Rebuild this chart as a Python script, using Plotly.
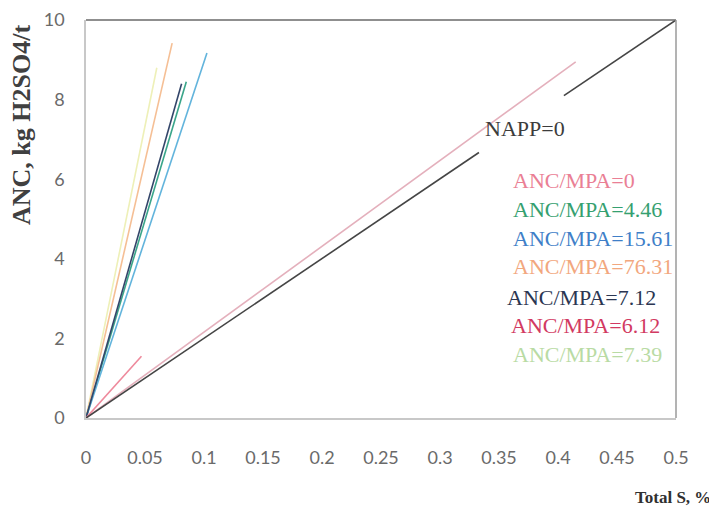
import plotly.graph_objects as go

# Data
series_names = ["NAPP=0", "ANC/MPA=0", "ANC/MPA=4.46", "ANC/MPA=15.61",
                "ANC/MPA=76.31", "ANC/MPA=7.12", "ANC/MPA=6.12", "ANC/MPA=7.39"]
napp_x = [0, 0.333, None, 0.405, 0.5]
napp_y = [0, 6.67, None, 8.1, 10]
anc0_x = [0, 0.047]
anc0_y = [0, 1.55]
anc446_x = [0, 0.085]
anc446_y = [0, 8.45]
anc1561_x = [0, 0.1025]
anc1561_y = [0, 9.17]
anc7631_x = [0, 0.073]
anc7631_y = [0, 9.42]
anc712_x = [0, 0.081]
anc712_y = [0, 8.4]
anc612_x = [0, 0.415]
anc612_y = [0, 8.95]
anc739_x = [0, 0.06]
anc739_y = [0, 8.8]

x_ticks = [0, 0.05, 0.1, 0.15, 0.2, 0.25, 0.3, 0.35, 0.4, 0.45, 0.5]
x_tick_labels = ["0", "0.05", "0.1", "0.15", "0.2", "0.25", "0.3", "0.35", "0.4", "0.45", "0.5"]
y_ticks = [0, 2, 4, 6, 8, 10]

line_colors = ["#454545", "#ee8a9c", "#3aa58a", "#62b4dc", "#f5bf95", "#34466a", "#e4b0bc", "#eef0b8"]
text_colors = ["#3c3c3c", "#ea7f95", "#35a070", "#3f7fc8", "#f2a77e", "#2b3652", "#d23a62", "#b9dba4"]

xs = [napp_x, anc0_x, anc446_x, anc1561_x, anc7631_x, anc712_x, anc612_x, anc739_x]
ys = [napp_y, anc0_y, anc446_y, anc1561_y, anc7631_y, anc712_y, anc612_y, anc739_y]

fig = go.Figure()
order = [6, 7, 4, 2, 3, 5, 1, 0]
for i in order:
    fig.add_trace(go.Scatter(x=xs[i], y=ys[i], mode="lines", name=series_names[i],
                             line=dict(color=line_colors[i], width=1.6),
                             connectgaps=False, showlegend=False))

# page body has an 8px margin: lay out in figure coords = screen coords - 8
OFF = 8
W, H = 717, 516
L, R, T, B = 86 - OFF, W - (676 - OFF), 20 - OFF, H - (418 - OFF)
pw, ph = W - L - R, H - T - B


def px(x):
    return (x - OFF - L) / pw


def py(y):
    return 1 - (y - OFF - T) / ph


# Legend-like labels
label_y = [128, 181, 209, 238, 266, 297, 325, 354]
label_x = [483, 511, 511, 511, 511, 505, 509, 511]
for i, name in enumerate(series_names):
    fig.add_annotation(x=px(label_x[i]), y=py(label_y[i]),
                       xref="paper", yref="paper", text=name, showarrow=False,
                       xanchor="left", yanchor="middle",
                       font=dict(family="Liberation Serif, Times New Roman, serif", size=22,
                                 color=text_colors[i]))

# Axis titles
fig.add_annotation(x=px(22), y=py(125), xref="paper", yref="paper",
                   xanchor="center", yanchor="middle",
                   text="<b>ANC, kg H2SO4/t</b>", textangle=-90, showarrow=False,
                   font=dict(family="Liberation Serif, serif", size=26, color="#404040"))
fig.add_annotation(x=px(713), y=py(497), xref="paper", yref="paper", text="<b>Total S, %</b>",
                   showarrow=False, xanchor="right", yanchor="middle",
                   font=dict(family="Liberation Serif, serif", size=17, color="#303030"))

# frame: darker top and right edges
fig.add_shape(type="line", xref="paper", yref="paper", x0=0, x1=1, y0=1, y1=1,
              line=dict(color="#6a6a6a", width=1.5))
fig.add_shape(type="line", xref="paper", yref="paper", x0=1, x1=1, y0=0, y1=1,
              line=dict(color="#9a9a9a", width=1.5))

fig.update_layout(
    width=W, height=H,
    margin=dict(l=L, r=R, t=T, b=B, autoexpand=False),
    paper_bgcolor="white", plot_bgcolor="white",
    xaxis=dict(range=[0, 0.5], tickvals=x_ticks, ticktext=x_tick_labels, automargin=False,
               showgrid=False, zeroline=False, showline=True, linecolor="#c8c8c8",
               linewidth=1.5, ticks="", ticklabelstandoff=23,
               tickfont=dict(family="Lato", size=18, color="#6a6a6a")),
    yaxis=dict(range=[0, 10], tickvals=y_ticks, showgrid=False, zeroline=False, automargin=False,
               showline=True, linecolor="#c8c8c8", linewidth=1.5, ticks="",
               ticklabelstandoff=16,
               tickfont=dict(family="Lato", size=18, color="#6a6a6a")),
)

fig.write_html("out.html")
